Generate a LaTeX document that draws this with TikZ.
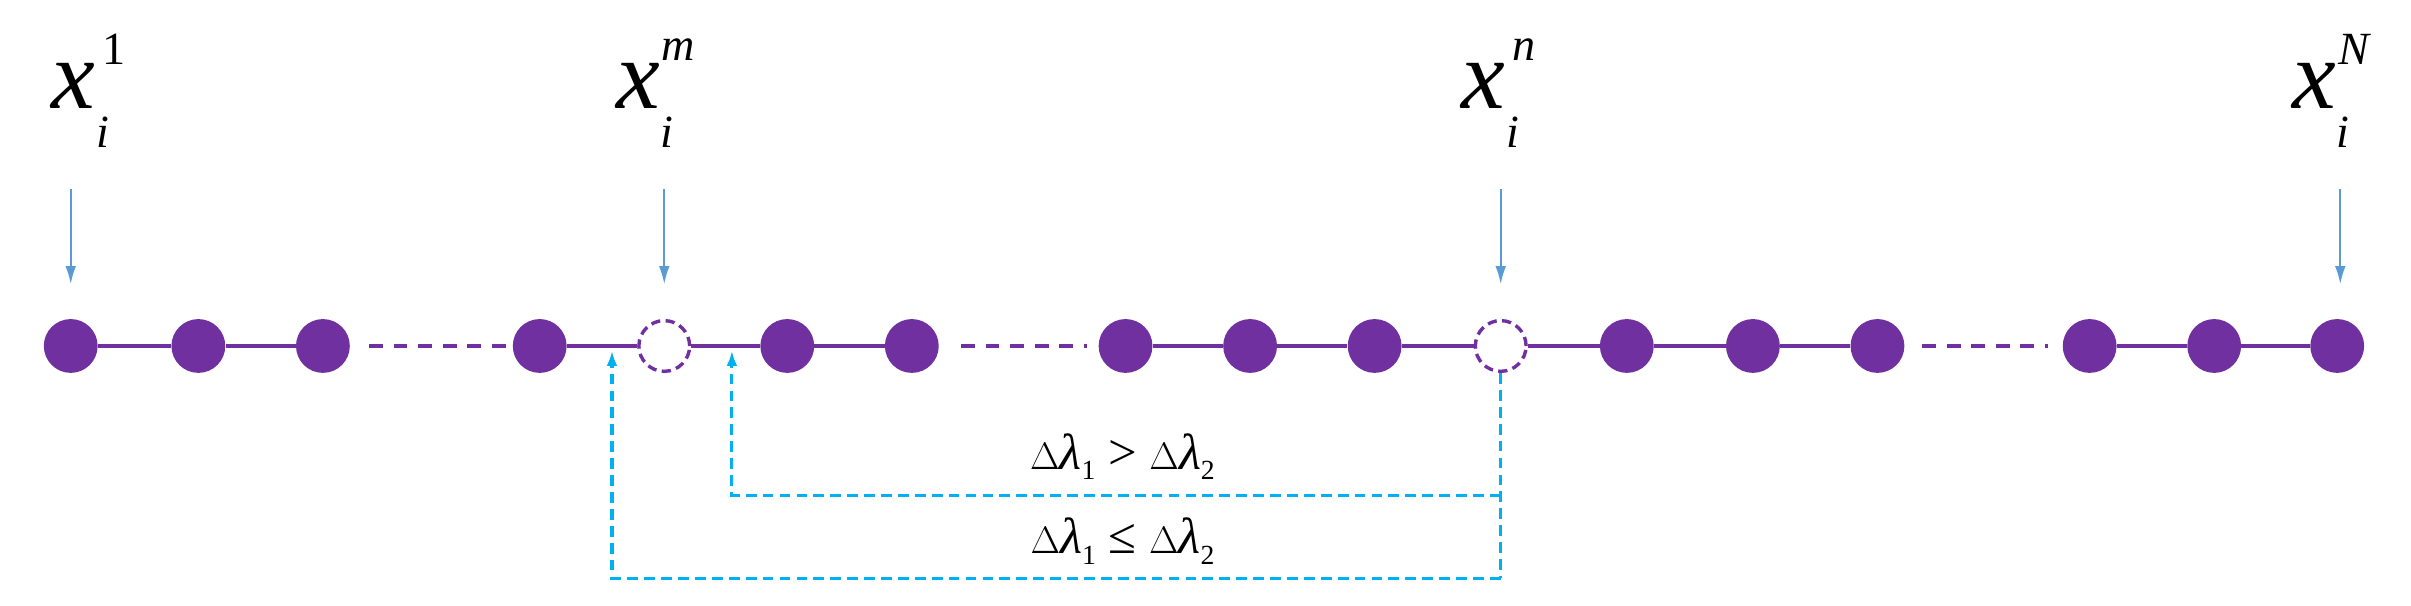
\documentclass[tikz,border=0pt]{standalone}
\usepackage{fontspec}
\setmainfont{Liberation Serif}
\usetikzlibrary{arrows.meta}
\definecolor{pur}{RGB}{112,48,160}
\definecolor{arr}{RGB}{91,155,213}
\definecolor{cy}{RGB}{0,176,240}
\begin{document}
\begin{tikzpicture}[x=1pt,y=-1pt,
  dot/.style={circle,fill=pur,minimum size=35pt,inner sep=0pt},
  hol/.style={circle,draw=pur,line width=2.2pt,dash pattern=on 6pt off 3.5pt,fill=white,minimum size=33pt,inner sep=0pt},
  lnk/.style={pur,line width=2.2pt},
  dlnk/.style={pur,line width=3pt,dash pattern=on 9pt off 7pt},
  feed/.style={arr,line width=1.5pt,-{Latex[length=12pt,width=7pt]}},
  back/.style={cy,line width=2pt,dash pattern=on 7pt off 4pt},
  backa/.style={back,-{Latex[length=10pt,width=7pt]}},
  big/.style={font=\fontsize{64}{66}\selectfont\itshape,inner sep=0pt},
  scr/.style={font=\fontsize{30}{32}\selectfont\itshape,inner sep=0pt},
  scrup/.style={font=\fontsize{30}{32}\selectfont,inner sep=0pt},
  cond/.style={font=\fontsize{33}{35}\selectfont,inner sep=0pt}]
\useasboundingbox (0,0) rectangle (1568,394);
% nodes
\foreach \n/\x in {a/46,b/129,c/210,d/351,f/512,g/593,h/732,k/813,l/894,o/1058,p/1140,q/1221,r/1359,s/1440,t/1520}
  \node[dot] (\n) at (\x,225) {};
\node[hol] (e) at (432,225) {};
\node[hol] (nn) at (976,225) {};
% links
\draw[lnk] (a)--(b); \draw[lnk] (b)--(c);
\draw[lnk] (d)--(e); \draw[lnk] (e)--(f); \draw[lnk] (f)--(g);
\draw[lnk] (h)--(k); \draw[lnk] (k)--(l); \draw[lnk] (l)--(nn); \draw[lnk] (nn)--(o);
\draw[lnk] (o)--(p); \draw[lnk] (p)--(q);
\draw[lnk] (r)--(s); \draw[lnk] (s)--(t);
\draw[dlnk] (240,225)--(332,225);
\draw[dlnk] (625,225)--(707,225);
\draw[dlnk] (1250,225)--(1332,225);
% labels
\foreach \n/\x/\s/\st in {l1/48/1/scrup,lm/415/m/scr,ln/965/n/scr,lN/1505/N/scr}{
  \node[big] (\n) at (\x,56) {x};
  \node[\st] (\n s) at (\x+26,32) {\s};
  \node[scr] (\n i) at (\x+19,86) {i};
}
\coordinate (t1) at (46,123); \coordinate (tm) at (432,123);
\coordinate (tn) at (976,123); \coordinate (tN) at (1522,123);
\draw[feed] (t1)--(46,185);
\draw[feed] (tm)--(432,185);
\draw[feed] (tn)--(976,185);
\draw[feed] (tN)--(1522,185);
% feedback
\coordinate (c1) at (976,376); \coordinate (c2) at (398,376);
\coordinate (c3) at (976,322); \coordinate (c4) at (476,322);
\draw[back] (nn.south)--(c1);
\draw[backa] (c1)--(c2)--(398,228);
\draw[backa] (c3)--(c4)--(476,228);
\node[cond] (g1) at (730,297) {$\Delta$\textit{λ}\raisebox{-7pt}{\fontsize{18}{18}\selectfont 1} > $\Delta$\textit{λ}\raisebox{-7pt}{\fontsize{18}{18}\selectfont 2}};
\node[cond] (g2) at (730,352) {$\Delta$\textit{λ}\raisebox{-7pt}{\fontsize{18}{18}\selectfont 1} ≤ $\Delta$\textit{λ}\raisebox{-7pt}{\fontsize{18}{18}\selectfont 2}};
\end{tikzpicture}
\end{document}
